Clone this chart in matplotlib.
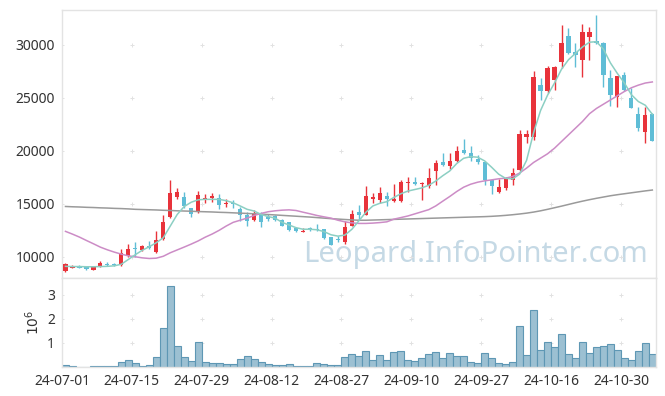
import matplotlib
matplotlib.use('Agg')
import matplotlib.pyplot as plt
import numpy as np

plt.rcParams['font.family'] = ['Noto Sans', 'DejaVu Sans']

# trading days 24-07-01 .. 24-11-05, tick label every 10 sessions
tick_labels = ['24-07-01', '24-07-15', '24-07-29', '24-08-12', '24-08-27',
               '24-09-10', '24-09-27', '24-10-16', '24-10-30']

opens = [8620, 8950, 9130, 9030, 8750, 9100, 9300, 9320, 9200, 10100,
         10850, 10600, 11050, 10450, 11650, 13750, 15600, 15650, 14600, 14200,
         15450, 15550, 15550, 14950, 15000, 14500, 13950, 13500, 13950, 13750,
         13850, 13500, 13250, 12700, 12350, 12750, 12650, 12600, 11850, 11650,
         11350, 12950, 14200, 13950, 15500, 15400, 15700, 15300, 15250, 16950,
         17050, 16900, 16650, 18050, 18900, 18600, 19000, 20100, 19800, 19200,
         18900, 17250, 16100, 16500, 17250, 18200, 21350, 21350, 26250, 25600,
         26700, 28350, 30800, 29300, 28600, 30750, 30350, 30150, 26850, 25050,
         27150, 24950, 23450, 21800, 23500]
highs = [9400, 9250, 9200, 9100, 9060, 9600, 9550, 9450, 10750, 11250,
         11400, 11100, 11450, 12450, 13950, 17250, 16500, 16100, 14650, 16250,
         15900, 16050, 15900, 15500, 15400, 14700, 14250, 14400, 14200, 14000,
         13950, 13550, 13300, 12750, 12700, 12850, 13100, 12650, 11900, 12000,
         13400, 14450, 14900, 16700, 16050, 16600, 16100, 16900, 17250, 17550,
         17500, 17100, 18350, 19150, 19800, 19800, 20450, 21100, 20450, 19600,
         18950, 17300, 17300, 17500, 18350, 22000, 21950, 27500, 26850, 28000,
         28050, 31900, 31550, 30150, 31950, 31700, 32850, 30300, 27600, 27100,
         27400, 25900, 24150, 24100, 23600]
lows = [8580, 8900, 8900, 8800, 8720, 9050, 9100, 9150, 9150, 10000,
        10000, 10550, 10750, 10400, 11600, 13650, 15500, 14600, 13750, 14100,
        15100, 15200, 14550, 14700, 14600, 13400, 12900, 13350, 12800, 13350,
        13350, 12900, 12450, 12350, 12300, 12450, 12450, 11700, 11100, 11400,
        11250, 12900, 13500, 13900, 15100, 15100, 14750, 15200, 15150, 16100,
        16800, 15350, 16500, 16750, 18600, 18300, 18900, 19700, 19000, 18800,
        16800, 15900, 16050, 16300, 16750, 18100, 20700, 21000, 24800, 25450,
        25750, 27800, 29100, 27950, 26950, 28600, 30100, 26050, 24250, 24100,
        25600, 24000, 21900, 20700, 20900]
closes = [9340, 9150, 8960, 8830, 9050, 9450, 9200, 9200, 10350, 10700,
          10780, 11050, 10800, 11600, 13300, 16050, 16100, 14750, 14050, 15850,
          15550, 15750, 14900, 15100, 14950, 13950, 13350, 14150, 13300, 13550,
          13450, 12950, 12500, 12400, 12480, 12500, 12550, 11750, 11150, 11550,
          12800, 14050, 13950, 15750, 15650, 16050, 15450, 15450, 17100, 17050,
          16900, 17000, 17400, 18850, 18650, 19050, 20000, 19800, 19300, 18900,
          17250, 16700, 16600, 17400, 17900, 21600, 21600, 26950, 25600, 27800,
          27950, 30200, 29250, 29050, 31250, 31250, 30150, 27150, 25300, 27050,
          25750, 24050, 22150, 23400, 20950]

ma_short = [9100, 9080, 9080, 9060, 9060, 9080, 9100, 9150, 9300, 9750,
            10200, 10620, 10950, 11330, 11800, 12900, 14000, 14750, 15150, 15380,
            15420, 15420, 15420, 15300, 15100, 14800, 14480, 14320, 14000, 13800,
            13650, 13250, 13000, 12750, 12600, 12600, 12550, 12380, 12080, 11950,
            12050, 12600, 13400, 14200, 14800, 15050, 15200, 15600, 15950, 16200,
            16350, 16500, 16750, 17150, 17650, 18100, 18800, 19300, 19450, 19400,
            19050, 18450, 17800, 17400, 17350, 17800, 19100, 21700, 23800, 25250,
            26400, 27700, 28600, 29200, 29800, 30250, 30300, 29600, 28300, 27300,
            26400, 25300, 24650, 24300, 23450]
ma_mid = [12400, 12140, 11860, 11540, 11230, 10910, 10660, 10440, 10250, 10090,
          10000, 9900, 9840, 9870, 10050, 10380, 10650, 10920, 11200, 11500,
          11850, 12150, 12500, 12900, 13250, 13450, 13650, 13900, 14090, 14250,
          14340, 14400, 14430, 14370, 14210, 14060, 13900, 13770, 13650, 13450,
          13300, 13200, 13150, 13150, 13180, 13230, 13300, 13550, 13700, 13850,
          14050, 14250, 14450, 14800, 15250, 15690, 16160, 16570, 16850, 17040,
          17170, 17260, 17360, 17420, 17580, 17900, 18370, 18900, 19310, 19720,
          20250, 20880, 21510, 22140, 22770, 23500, 24000, 24400, 24800, 25200,
          25600, 25950, 26200, 26400, 26500]
ma_long = [14750, 14720, 14700, 14670, 14650, 14620, 14600, 14570, 14550, 14520,
           14480, 14460, 14440, 14420, 14390, 14370, 14340, 14320, 14300, 14270,
           14250, 14230, 14200, 14180, 14150, 14120, 14090, 14060, 14020, 13990,
           13950, 13910, 13870, 13830, 13790, 13750, 13700, 13650, 13600, 13560,
           13520, 13480, 13450, 13450, 13470, 13490, 13510, 13530, 13550, 13570,
           13590, 13610, 13630, 13650, 13670, 13690, 13710, 13730, 13750, 13770,
           13790, 13820, 13860, 13910, 13970, 14040, 14120, 14220, 14340, 14480,
           14630, 14780, 14940, 15100, 15250, 15390, 15520, 15640, 15760, 15860,
           15950, 16040, 16130, 16220, 16300]

volume = [0.08, 0.04, 0.01, 0.01, 0.04, 0.04, 0.04, 0.04, 0.22, 0.30,
          0.17, 0.04, 0.08, 0.41, 1.62, 3.37, 0.87, 0.41, 0.26, 1.05,
          0.22, 0.17, 0.17, 0.10, 0.12, 0.33, 0.47, 0.33, 0.22, 0.14,
          0.08, 0.08, 0.12, 0.04, 0.04, 0.04, 0.17, 0.12, 0.08, 0.08,
          0.41, 0.54, 0.47, 0.68, 0.30, 0.51, 0.30, 0.64, 0.68, 0.30,
          0.26, 0.39, 0.55, 0.64, 0.35, 0.59, 0.47, 0.47, 0.22, 0.18,
          0.59, 0.39, 0.18, 0.14, 0.22, 1.72, 0.51, 2.38, 0.72, 1.05,
          0.84, 1.38, 0.55, 0.35, 1.05, 0.59, 0.84, 0.89, 0.97, 0.72,
          0.39, 0.30, 0.68, 1.01, 0.55]
volume = [v * 1e6 for v in volume]

UP = '#e8333b'
DOWN = '#5fbdd6'
GRID = '#e2e2e2'
SPINE = '#e3e3e3'
TXT = '#333333'

n = len(closes)
x = np.arange(n) + 0.5
o = np.array(opens); c = np.array(closes)
colors = [UP if cc >= oo else DOWN for oo, cc in zip(o, c)]

fig = plt.figure(figsize=(6.65, 3.96), dpi=100)
ax = fig.add_axes([0.0932, 0.298, 0.893, 0.677])
axv = fig.add_axes([0.0932, 0.0735, 0.893, 0.2245], sharex=ax)

# watermark
ax.text(0.986, 0.035, 'Leopard.InfoPointer.com', transform=ax.transAxes,
        ha='right', va='bottom', fontsize=21, color='#c5d9e5', zorder=0)

# candles
ax.vlines(x, lows, highs, colors=colors, linewidth=1.0, zorder=2)
body = np.maximum(np.abs(c - o), 90)
ax.bar(x, body, bottom=np.minimum(o, c), width=0.6, color=colors,
       linewidth=0, zorder=3)

ax.plot(x, ma_long, color='#9a9a9a', lw=1.1, zorder=4)
ax.plot(x, ma_mid, color='#cc8cc6', lw=1.1, zorder=4)
ax.plot(x, ma_short, color='#8ccfc3', lw=1.1, zorder=4)

# volume
axv.bar(x, volume, width=1.0, color='#9cc0d2', edgecolor='#5e97b4',
        linewidth=0.8, zorder=2)

xt = np.arange(0, n, 10)
yt = [10000, 15000, 20000, 25000, 30000]
vt = [1e6, 2e6, 3e6]

ax.set_xlim(0, n)
ax.set_ylim(8000, 33300)
axv.set_ylim(0, 3.7e6)
ax.set_yticks(yt)
ax.set_yticklabels([str(v) for v in yt])
axv.set_yticks(vt)
axv.set_yticklabels(['1', '2', '3'])
axv.set_xticks(xt)
axv.set_xticklabels(tick_labels)
plt.setp(ax.get_xticklabels(), visible=False)

for a, ys in ((ax, yt), (axv, vt)):
    gx, gy = np.meshgrid(xt, ys)
    a.plot(gx.ravel(), gy.ravel(), '+', color=GRID, ms=3, mew=0.7, zorder=1)
    a.tick_params(length=0, labelsize=10, colors=TXT, pad=5)
    for s in a.spines.values():
        s.set_color(SPINE)
        s.set_linewidth(1.0)

axv.set_ylabel(r'$10^6$', color=TXT, fontsize=10, labelpad=3)

fig.savefig('out.png', dpi=100)
